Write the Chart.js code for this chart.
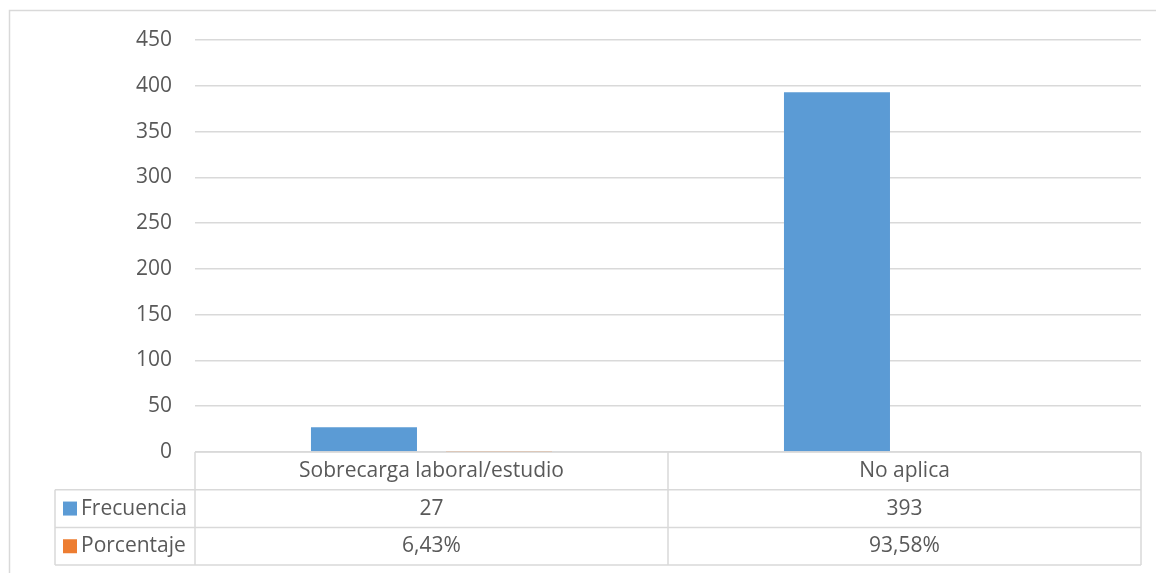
<!DOCTYPE html>
<html>
<head>
<meta charset="utf-8">
<script src="https://cdn.jsdelivr.net/npm/chart.js@4/dist/chart.umd.min.js"></script>
<style>
  html, body { margin: 0; padding: 0; background: #fff; }
  #wrap { width: 1156px; height: 573px; position: relative; }
</style>
</head>
<body>
<div id="wrap"><canvas id="chart"></canvas></div>
<script>
const categories = ['Sobrecarga laboral/estudio', 'No aplica'];
const frecuencia = [27, 393];
const porcentaje = [0.0643, 0.9358];
const yTicks = [0, 50, 100, 150, 200, 250, 300, 350, 400, 450];

const FONT = '"Open Sans", "Noto Sans", sans-serif';
const TEXT = '#595959';
const LINE = '#d9d9d9';
const BLUE = '#5b9bd5';
const ORANGE = '#ed7d31';

function fmtPct(v) {
    return (v * 100).toFixed(2).replace('.', ',') + '%';
}

// outer frame of the chart object
const framePlugin = {
    id: 'frame',
    beforeDraw(chart) {
        const ctx = chart.ctx;
        ctx.save();
        ctx.fillStyle = '#fff';
        ctx.fillRect(0, 0, chart.width, chart.height);
        ctx.strokeStyle = LINE;
        ctx.lineWidth = 1.5;
        ctx.strokeRect(9.5, 10.5, chart.width + 20, chart.height + 20);
        ctx.restore();
    }
};

// Excel style data table under the plot
const tablePlugin = {
    id: 'dataTable',
    afterDraw(chart) {
        const ctx = chart.ctx;
        const area = chart.chartArea;
        const xs = chart.scales.x;
        const rowH = 37.7;
        const y0 = area.bottom;
        const y1 = y0 + rowH, y2 = y1 + rowH, y3 = y2 + rowH;
        const left = 55;
        const n = categories.length;
        const colW = (area.right - area.left) / n;

        ctx.save();
        ctx.strokeStyle = LINE;
        ctx.lineWidth = 1.5;
        ctx.beginPath();
        ctx.moveTo(area.left, y0); ctx.lineTo(area.right, y0);
        [y1, y2, y3].forEach(y => { ctx.moveTo(left, y); ctx.lineTo(area.right, y); });
        ctx.moveTo(left, y1); ctx.lineTo(left, y3);
        for (let i = 0; i <= n; i++) {
            const x = area.left + i * colW;
            ctx.moveTo(x, y0); ctx.lineTo(x, y3);
        }
        ctx.stroke();

        ctx.fillStyle = TEXT;
        ctx.font = '21px ' + FONT;
        ctx.textAlign = 'center';
        ctx.textBaseline = 'middle';
        categories.forEach((c, i) => {
            const cx = xs.getPixelForValue(i);
            ctx.fillText(c, cx, (y0 + y1) / 2);
            ctx.fillText(String(frecuencia[i]), cx, (y1 + y2) / 2);
            ctx.fillText(fmtPct(porcentaje[i]), cx, (y2 + y3) / 2);
        });

        const series = chart.data.datasets;
        [[y1, y2], [y2, y3]].forEach(([a, b], k) => {
            const mid = (a + b) / 2;
            ctx.fillStyle = series[k].backgroundColor;
            ctx.fillRect(63, mid - 7, 14, 14);
            ctx.fillStyle = TEXT;
            ctx.textAlign = 'left';
            ctx.fillText(series[k].label, 81, mid);
        });
        ctx.restore();
    }
};

new Chart(document.getElementById('chart'), {
    type: 'bar',
    data: {
        labels: categories,
        datasets: [
            { label: 'Frecuencia', data: frecuencia, backgroundColor: BLUE },
            { label: 'Porcentaje', data: porcentaje, backgroundColor: ORANGE }
        ]
    },
    options: {
        responsive: true,
        maintainAspectRatio: false,
        animation: false,
        devicePixelRatio: 1,
        layout: { padding: { left: 0, right: 15, top: 40, bottom: 121 } },
        datasets: {
            bar: { categoryPercentage: 0.571, barPercentage: 0.785 }
        },
        plugins: {
            legend: { display: false },
            tooltip: { enabled: false }
        },
        scales: {
            x: {
                display: false,
                offset: true
            },
            y: {
                min: 0,
                max: 450,
                afterBuildTicks(scale) {
                    scale.ticks = yTicks.map(v => ({ value: v }));
                },
                afterFit(scale) { scale.width = 195; },
                border: { display: false },
                grid: { color: LINE, lineWidth: 1.5, drawTicks: false },
                ticks: {
                    color: TEXT,
                    padding: 23,
                    font: { family: FONT, size: 21 }
                }
            }
        }
    },
    plugins: [framePlugin, tablePlugin]
});
</script>
</body>
</html>
